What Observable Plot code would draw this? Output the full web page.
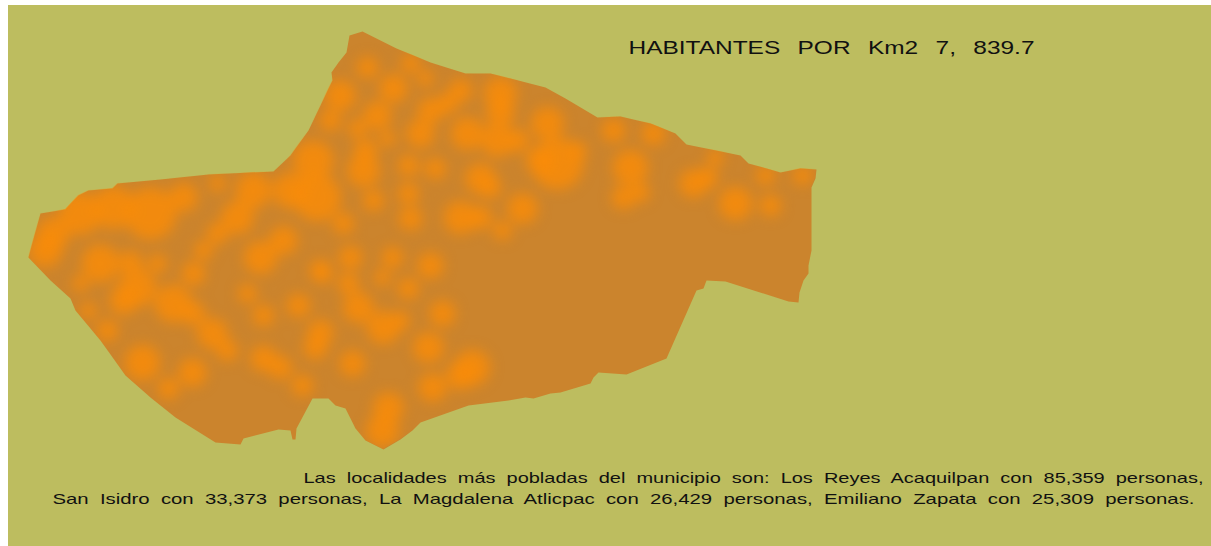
<!DOCTYPE html>
<html><head><meta charset="utf-8">
<script src="https://cdn.jsdelivr.net/npm/d3@7"></script>
<script src="https://cdn.jsdelivr.net/npm/@observablehq/plot@0.6"></script>
<style>html,body{margin:0;padding:0;background:#fff;overflow:hidden}svg{display:block}</style>
</head><body>
<div id="chart"></div>
<script>
// Municipal outline
const outlineX = [28,40,65,78,88,112,117,160,208,273,290,308,320,332,331,338,346,349,362,396,430,465,490,510,545,565,597,620,650,675,686,740,748,780,800,816,815,811,811,808,808,803,799,798,788,725,706,703,696,666,626,598,593,590,560,550,533,525,508,468,420,412,400,383,365,355,345,335,328,312,296,295,292,290,278,243,240,215,175,150,125,100,75,70,50];
const outlineY = [257,213,209,195,190,188,183,179,174,171,155,130,105,80,72,62,52,35,31,48,62,73,73,78,87,98,117,116,123,133,144,155,163,172,168,169,178,187,250,265,273,280,292,302,301,281,280,288,290,358,374,372,377,383,392,393,398,397,400,405,422,430,439,449,440,428,408,405,398,398,428,439,439,430,429,438,444,442,417,397,375,340,310,298,280];

// Population hot spots
const hotX = [367,393,340,330,377,357,387,365,363,408,408,373,410,343,350,392,320,313,317,290,253,217,183,150,113,80,53,100,237,217,203,283,260,157,137,123,173,193,193,247,263,298,322,348,382,408,358,383,400,320,315,352,212,227,263,280,302,192,168,142,107,88,80,388,382,410,425,460,430,447,500,500,467,497,517,420,547,557,577,540,613,653,630,623,640,693,707,715,735,770,765,802,435,480,490,460,480,522,502,430,442,428,472,460,432,45,130];
const hotY = [67,88,95,120,115,128,138,150,170,165,193,200,218,223,257,257,270,160,197,190,190,183,197,213,207,213,233,263,217,233,250,240,257,263,287,300,303,313,273,293,315,305,273,283,277,288,307,327,320,332,347,363,333,350,358,367,385,372,388,362,330,310,283,407,430,63,78,90,110,103,93,113,133,140,140,133,123,163,150,160,130,133,167,197,192,183,177,157,203,205,175,175,168,178,187,217,217,208,230,265,313,347,367,375,387,250,262];
const hotR = [9,12,13,9,12,8,7,10,14,9,9,9,10,9,10,9,9,17,20,15,15,7,12,22,18,18,14,16,14,9,8,12,14,8,16,12,16,10,10,8,9,10,8,9,7,9,13,14,8,11,10,11,13,9,11,10,9,12,9,15,9,7,7,13,14,8,7,10,11,9,14,12,14,14,10,12,14,22,8,12,10,10,15,10,8,12,9,7,14,9,8,8,9,13,9,14,10,13,8,11,11,13,15,12,12,14,10];

const pageBox = {left: 8, top: 5, right: 1211, bottom: 546};
const titleText = ["HABITANTES POR Km2 7, 839.7"];
const noteLines = [
  "Las localidades más pobladas del municipio son: Los Reyes Acaquilpan con 85,359 personas,",
  "San Isidro con 33,373 personas, La Magdalena Atlicpac con 26,429 personas, Emiliano Zapata con 25,309 personas."
];
const noteX = [303, 52];
const noteY = [482, 503];
const noteWidth = [900, 1142];

const outline = outlineX.map((x, i) => ({x, y: outlineY[i]}));
const hot = hotX.map((x, i) => ({x, y: hotY[i], r: hotR[i]}));

const clipped = (index, scales, values, dimensions, context, next) => {
  const g = next(index, scales, values, dimensions, context);
  const ns = "http://www.w3.org/2000/svg";
  const defsClip = document.createElementNS(ns, "clipPath");
  defsClip.setAttribute("id", "muni");
  const p = document.createElementNS(ns, "path");
  p.setAttribute("d", d3.line().x(d => scales.x(d.x)).y(d => scales.y(d.y))(outline) + "Z");
  defsClip.appendChild(p);
  const wrap = document.createElementNS(ns, "g");
  wrap.appendChild(defsClip);
  wrap.setAttribute("clip-path", "url(#muni)");
  wrap.appendChild(g);
  return wrap;
};

const fitText = (lengths, wordSpacing) => (index, scales, values, dimensions, context, next) => {
  const g = next(index, scales, values, dimensions, context);
  d3.select(g).selectAll("text").each(function(_, i) {
    this.setAttribute("textLength", lengths[i]);
    this.setAttribute("lengthAdjust", "spacingAndGlyphs");
    this.style.wordSpacing = wordSpacing;
  });
  return g;
};

const chart = Plot.plot({
  width: 1211, height: 546,
  margin: 0,
  x: {domain: [0, 1211], range: [0, 1211], axis: null},
  y: {domain: [0, 546], range: [0, 546], axis: null},
  r: {type: "linear", domain: [0, 22], range: [0, 26]},
  style: {background: "#fff"},
  marks: [
    Plot.rect([pageBox], {x1: "left", x2: "right", y1: "top", y2: "bottom", fill: "#BDBD5F"}),
    Plot.line(outline, {x: "x", y: "y", fill: "#CB842D", stroke: "none"}),
    Plot.dot(hot, {x: "x", y: "y", r: "r", fill: "#FB8C06", stroke: "none", fillOpacity: 0.8, imageFilter: "blur(6.5px)", render: clipped}),
    Plot.text(titleText, {x: () => 628, y: () => 53, text: d => d, textAnchor: "start", lineAnchor: "bottom", fontFamily: "Liberation Sans", fontSize: 18.5, fill: "#111", render: fitText([406], "8px")}),
    Plot.text(noteLines, {x: (d, i) => noteX[i], y: (d, i) => noteY[i], text: d => d, textAnchor: "start", lineAnchor: "bottom", fontFamily: "Liberation Sans", fontSize: 14.5, fill: "#111", render: fitText(noteWidth, "4px")})
  ]
});
document.getElementById("chart").appendChild(chart);
</script>
</body></html>
